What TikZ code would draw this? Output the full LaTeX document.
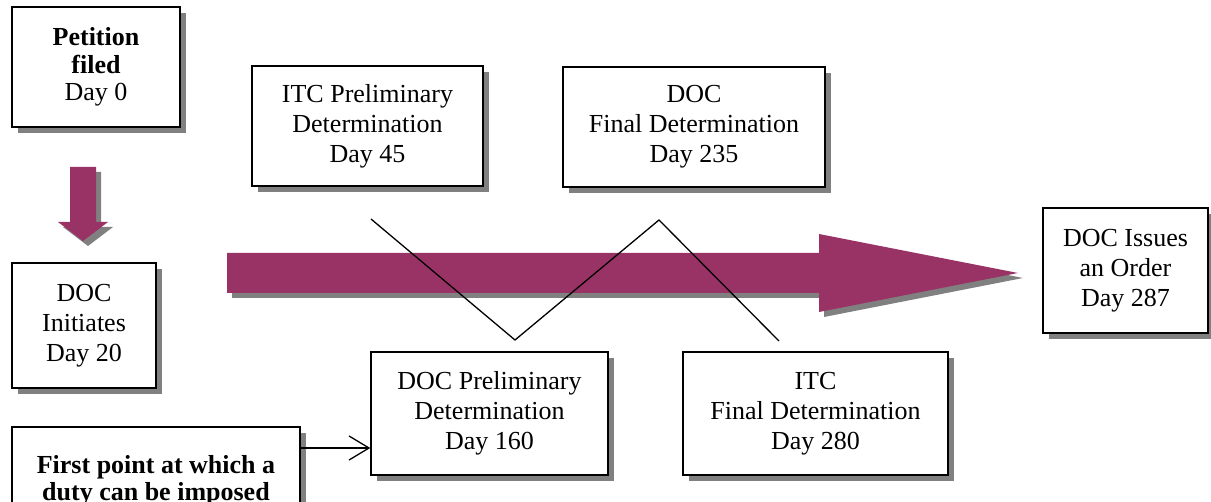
\documentclass[tikz,border=0pt]{standalone}
\usepackage{fontspec}
\setmainfont{Liberation Serif}
\usetikzlibrary{arrows.meta,shadows}
\definecolor{plum}{HTML}{993366}
\definecolor{shade}{HTML}{808080}
\begin{document}
\begin{tikzpicture}[x=1pt,y=-1pt,
  box/.style={draw=black,line width=1.4pt,fill=white,align=center,inner sep=0pt,
    font=\fontsize{26}{30}\selectfont,
    drop shadow={shadow xshift=6pt,shadow yshift=-6pt,fill=shade,opacity=1}},
  boldbox/.style={box,font=\fontsize{26}{27.5}\selectfont\bfseries},
  bigarrow/.style={fill=plum},
  arrowshadow/.style={fill=shade},
  zig/.style={draw=black,line width=1.3pt},
  pointer/.style={draw=black,line width=1.3pt,-{Straight Barb[length=20pt,width=24pt,line width=1.3pt]}}
]
\useasboundingbox (0,0) rectangle (1211,502);
\clip (0,0) rectangle (1211,502);
% arrow shadows
\begin{scope}[shift={(5,5)}]
  \fill[arrowshadow] (227,253) -- (819,253) -- (819,234) -- (1018,273) -- (819,312) -- (819,293) -- (227,293) -- cycle;
  \fill[arrowshadow] (70,167) -- (96,167) -- (96,222) -- (108,222) -- (83,241) -- (58,222) -- (70,222) -- cycle;
\end{scope}
% arrows
\fill[bigarrow] (227,253) -- (819,253) -- (819,234) -- (1018,273) -- (819,312) -- (819,293) -- (227,293) -- cycle;
\fill[bigarrow] (70,167) -- (96,167) -- (96,222) -- (108,222) -- (83,241) -- (58,222) -- (70,222) -- cycle;
% zigzag
\coordinate (z1) at (371,219);
\coordinate (z2) at (515,340);
\coordinate (z3) at (659,220);
\coordinate (z4) at (779,341);
\draw[zig] (z1) -- (z2) -- (z3) -- (z4);
% boxes
\node[boldbox,minimum width=168pt,minimum height=120pt] (pet) at (96,67)
  {Petition\\filed\\\mdseries Day 0};
\node[box,minimum width=144pt,minimum height=125pt] (ini) at (84,325.5)
  {DOC\\Initiates\\Day 20};
\node[boldbox,minimum width=288pt,minimum height=108pt] (first) at (156,481)
  {First point at which a\\duty can be imposed};
\node[box,minimum width=231pt,minimum height=120pt] (itcp) at (367.5,126)
  {ITC Preliminary\\Determination\\Day 45};
\node[box,minimum width=262pt,minimum height=120pt] (docf) at (694,127)
  {DOC\\Final Determination\\Day 235};
\node[box,minimum width=237pt,minimum height=123pt] (dpre) at (489.5,413.5)
  {DOC Preliminary\\Determination\\Day 160};
\node[box,minimum width=265pt,minimum height=123pt] (itcf) at (815.5,413.5)
  {ITC\\Final Determination\\Day 280};
\node[box,minimum width=165pt,minimum height=125pt] (iss) at (1125.5,270.5)
  {DOC Issues\\an Order\\Day 287};
% pointer
\coordinate (py) at (0,448);
\draw[pointer] (first.east |- py) -- (dpre.west |- py);
\end{tikzpicture}
\end{document}
